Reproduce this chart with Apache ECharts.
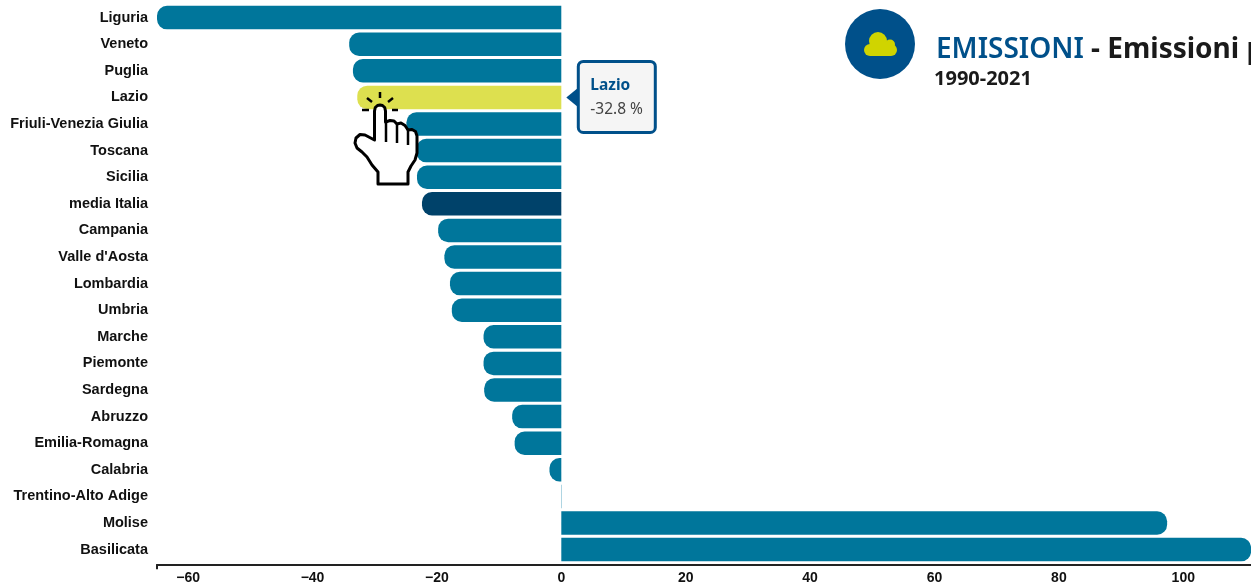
<!DOCTYPE html>
<html><head><meta charset="utf-8">
<style>html,body{margin:0;padding:0;background:#fff;overflow:hidden}#c{width:1251px;height:585px}</style>
<script src="https://cdn.jsdelivr.net/npm/echarts@6/dist/echarts.min.js"></script>
</head><body><div id="c"></div>
<script>
const categories = ["Liguria","Veneto","Puglia","Lazio","Friuli-Venezia Giulia","Toscana","Sicilia","media Italia","Campania","Valle d'Aosta","Lombardia","Umbria","Marche","Piemonte","Sardegna","Abruzzo","Emilia-Romagna","Calabria","Trentino-Alto Adige","Molise","Basilicata"];
const values = [-65,-34.1,-33.5,-32.8,-24.9,-23.3,-23.2,-22.4,-19.8,-18.8,-17.9,-17.6,-12.5,-12.5,-12.4,-7.9,-7.5,-1.9,0.1,97.4,110.9];
const tickValues = [-60,-40,-20,0,20,40,60,80,100,120];
const highlighted = "Lazio", average = "media Italia";
const BAR="#00769b", AVG="#00426a", HI="#dde04f", NAVY="#00508a", THIN="#7fbcd1";

const chart = echarts.init(document.getElementById('c'));
const data = values.map((v,i)=>({
  value:v,
  itemStyle:{
    color: categories[i]===highlighted?HI:categories[i]===average?AVG:Math.abs(v)<0.5?THIN:BAR,
    borderRadius: v<0?[10,0,0,10]:(v>1?[0,10,10,0]:0)
  }
}));
const i0 = categories.indexOf(highlighted);
const hand = [[374.5,140],[374.5,111],[375.3,107.5],[377.5,105.5],[380,105],[382.5,105.5],[384.7,107.5],[385.5,111],[385.5,122],[390,120.5],[394,121],[397,124],[401,123],[405,125.5],[408,130],[412,129.5],[415.5,131.5],[417,136],[417,153],[415,160],[411,166],[408,172],[408,184],[378,184],[378,172],[372,165],[367,157],[362,152],[357,148],[355,143],[356,138],[360,134.5],[365,135]];
const handLines = [[386,122,386,142],[397,124,397,143],[408,130,408,145]];
const rays = [[380,92,380,98],[367,98,372,102],[393,98,388,102],[362,110,369,110],[392,110,398,110]];
const cloudCircles = [[878,41,9],[870,50,6],[891,50,6],[890,44.5,5]];

chart.setOption({
  animation:false,
  grid:{left:157,top:4.3,width:1150.7,height:558.6,containLabel:false,outerBoundsMode:'none'},
  xAxis:{type:'value',min:-65,max:120,offset:1.4,splitLine:{show:false},
    axisLine:{show:true,lineStyle:{color:'#222',width:2}},
    axisTick:{show:true,length:5,lineStyle:{color:'#222',width:2},customValues:[-65]},
    axisLabel:{margin:7,fontFamily:'Liberation Sans',fontWeight:'bold',fontSize:14,color:'#111',
      customValues:tickValues,formatter:v=>String(v).replace('-','\u2212')}},
  yAxis:{type:'category',inverse:true,data:categories,
    axisLine:{show:false},axisTick:{show:false},
    axisLabel:{margin:9,fontFamily:'Liberation Sans',fontWeight:'bold',fontSize:14.5,color:'#111'}},
  series:[{type:'bar',data,barWidth:23.5,silent:true}],
  title:[{left:936,top:36,padding:0,text:'{a|EMISSIONI}{b| - Emissioni pro capite}',
      textStyle:{rich:{a:{fontFamily:'Noto Sans',fontWeight:600,fontSize:28,color:NAVY},b:{fontFamily:'Noto Sans',fontWeight:'bold',fontSize:28,color:'#1a1a1a'}}}},
    {left:934,top:69,padding:0,text:'1990-2021',textStyle:{fontFamily:'Noto Sans',fontWeight:'bold',fontSize:20,color:'#1a1a1a'}}]
});

const [x0,y0] = chart.convertToPixel({gridIndex:0},[0,i0]);
const Z = 100;
chart.setOption({graphic:[
  {type:'circle',z:Z,shape:{cx:880,cy:44,r:35},style:{fill:NAVY}},
  ...cloudCircles.map(c=>({type:'circle',z:Z,shape:{cx:c[0],cy:c[1],r:c[2]},style:{fill:'#d0d400'}})),
  {type:'rect',z:Z,shape:{x:870,y:44,width:21,height:12},style:{fill:'#d0d400'}},
  {type:'polygon',z:Z,shape:{points:[[x0+5,y0],[x0+16,y0-9],[x0+16,y0+9]]},style:{fill:NAVY}},
  {type:'rect',z:Z,shape:{x:x0+17,y:y0-36,width:77,height:71,r:5},style:{fill:'#f5f5f5',stroke:NAVY,lineWidth:3}},
  {type:'text',z:Z,x:x0+29,y:y0-12,style:{text:highlighted,fontFamily:'Noto Sans',fontWeight:'bold',fontSize:15.5,fill:NAVY,verticalAlign:'middle'}},
  {type:'text',z:Z,x:x0+29,y:y0+12,style:{text:values[i0].toFixed(1)+' %',fontFamily:'Noto Sans',fontSize:15.5,fill:'#444',verticalAlign:'middle'}},
  {type:'polygon',z:Z,shape:{points:hand},style:{fill:'#fff',stroke:'#000',lineWidth:3,lineJoin:'round'}},
  ...handLines.map(r=>({type:'line',z:Z+1,shape:{x1:r[0],y1:r[1],x2:r[2],y2:r[3]},style:{stroke:'#000',lineWidth:2.5}})),
  ...rays.map(r=>({type:'line',z:Z+1,shape:{x1:r[0],y1:r[1],x2:r[2],y2:r[3]},style:{stroke:'#000',lineWidth:2.5}}))
]});
</script></body></html>
